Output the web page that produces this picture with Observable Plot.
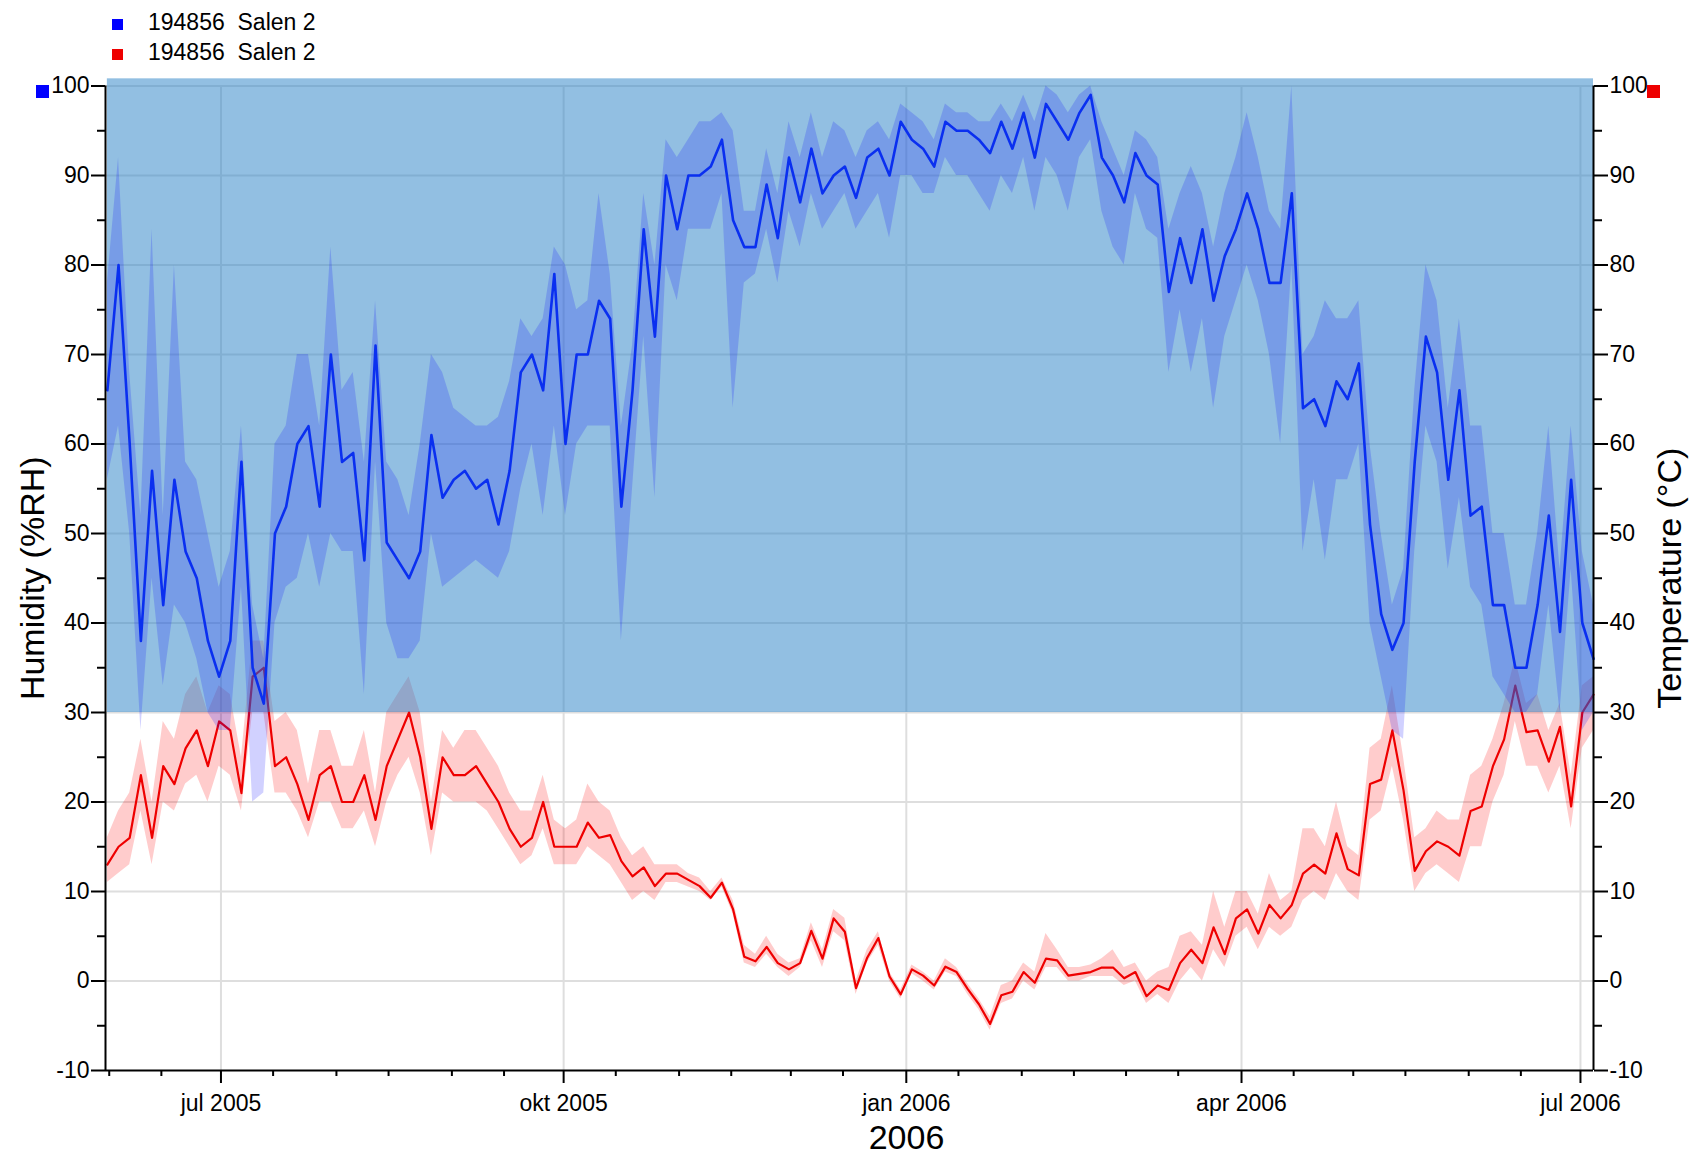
<!DOCTYPE html>
<html>
<head>
<meta charset="utf-8">
<script src="https://cdn.jsdelivr.net/npm/d3@7"></script>
<script src="https://cdn.jsdelivr.net/npm/@observablehq/plot@0.6"></script>
<style>
  html, body { margin: 0; padding: 0; background: #fff; }
  #wrap { position: relative; width: 1695px; height: 1158px; font-family: "Liberation Sans", Arial, sans-serif; color: #000; }
  #legend { position: relative; height: 70px; }
  .lg { position: absolute; left: 148px; font-size: 23px; line-height: 1; white-space: pre; }
  .sw { position: absolute; }
</style>
</head>
<body>
<div id="wrap">
  <div id="legend"></div>
  <div id="chart"></div>
</div>
<script>
// ---------------- data ----------------
const seriesNames = ["194856  Salen 2", "194856  Salen 2"];
const seriesColors = ["#0000ff", "#ee0000"];
const firstSample = "2005-05-31T12:00:00Z";
const stepDays = 3;
const xDomainDates = ["2005-05-31T00:00:00Z", "2006-07-04T12:00:00Z"];
const xTickDates = ["2005-07-01", "2005-10-01", "2006-01-01", "2006-04-01", "2006-07-01"];
const xTickLabels = ["jul 2005", "okt 2005", "jan 2006", "apr 2006", "jul 2006"];
const yTickValues = [-10, 0, 10, 20, 30, 40, 50, 60, 70, 80, 90, 100];
const yMinorValues = [-5, 5, 15, 25, 35, 45, 55, 65, 75, 85, 95];
const bandLow = 30, bandHigh = 100.8;

// relative humidity (%RH), 3-day samples: mean, low, high
const humidity = [66,80,60,38,57,42,56,48,45,38,
  34,38,58,35,31,50,53,60,62,53,
  70,58,59,47,71,49,47,45,48,61,
  54,56,57,55,56,51,57,68,70,66,
  79,60,70,70,76,74,53,66,84,72,
  90,84,90,90,91,94,85,82,82,89,
  83,92,87,93,88,90,91,87.5,92,93,
  90,96,94,93,91,96,95,95,94,92.5,
  96,93,97,92,98,96,94,97,99,92,
  90,87,92.5,90,89,77,83,78,84,76,
  81,84,88,84,78,78,88,64,65,62,
  67,65,69,51,41,37,40,58,72,68,
  56,66,52,53,42,42,35,35,42,52,
  39,56,40,36];
const humLow = [56,62,50,28,45,33,42,40,36,30,
  28,28,44,20,21,40,44,45,50,44,
  50,48,48,32,58,40,36,36,38,50,
  44,45,46,47,46,45,48,55,60,52,
  62,52,60,62,62,62,38,55,72,54,
  80,76,84,84,84,88,64,78,79,84,
  78,86,82,88,84,86,88,84,86,88,
  83,90,90,88,88,92,90,90,88,86,
  90,88,92,86,92,90,86,92,94,86,
  82,80,88,84,83,68,75,68,74,64,
  72,76,80,76,70,60,80,48,56,47,
  56,56,60,40,34,28,27,48,62,58,
  46,54,44,42,34,32,30,30,32,42,
  30,46,28,30];
const humHigh = [78,92,68,52,84,52,80,58,56,50,
  44,48,62,42,36,60,62,70,70,62,
  82,66,68,58,76,58,56,52,60,70,
  68,64,63,62,62,63,67,74,72,74,
  82,80,75,76,88,79,62,71,88,80,
  94,92,94,96,96,97,95,86,86,93,
  88,96,92,97,92,96,95,92,95,96,
  94,98,97,96,94,98,97,97,96,96,
  98,96,99,96,100,99,97,99,100,96,
  93,90,95,94,92,84,88,91,88,82,
  88,92,97,92,86,84,100,70,72,76,
  74,74,76,60,50,42,46,66,80,76,
  64,74,62,62,50,50,42,42,50,62,
  46,62,48,42];

// temperature (°C), 3-day samples: mean, low, high
const temperature = [13,15,16,23,16,24,22,26,28,24,
  29,28,21,34,35,24,25,22,18,23,
  24,20,20,23,18,24,27,30,25,17,
  25,23,23,24,22,20,17,15,16,20,
  15,15,15,17.7,16,16.3,13.4,11.7,12.7,10.6,
  12,12,11.3,10.6,9.3,11,8,2.7,2.2,3.8,
  2,1.3,2,5.6,2.5,7,5.5,-0.8,2.6,4.8,
  0.5,-1.5,1.3,0.6,-0.5,1.6,1,-0.9,-2.6,-4.8,
  -1.6,-1.2,1,-0.2,2.5,2.3,0.6,0.8,1,1.5,
  1.5,0.3,1,-1.7,-0.5,-1,2,3.5,2,6,
  3,7,8,5.3,8.5,7,8.5,12,13,12,
  16.5,12.5,11.8,22,22.5,28,21.3,12.3,14.5,15.6,
  15,14,19,19.5,24,27,33,27.8,28,24.5,
  28.4,19.5,30,32];
const tempLow = [11,12,13,19,13,20,19,22,23,20,
  24,23,19,30,30,21,21,19,16,20,
  20,17,17,19,15,20,23,25,21,14,
  21,20,20,20,19,17,15,13,14,17,
  13,13,13,15,14,13,11,9,10,9,
  11,11,10.5,10,9,10.5,7.5,2,1.5,3,
  1.5,0.5,1.5,4.5,1.5,5.5,4.5,-1.5,2,4,
  0,-2,0.8,0,-1,1,0.5,-1.5,-3.2,-5.5,
  -2.5,-2,0,-1,1.5,1.5,0,0,0.5,0.5,
  0.5,-0.5,0,-2.5,-1.5,-2.5,0,1.5,0,3.5,
  1.5,5,6,3.5,6,5,6,9,10,9,
  12,10,9,18,19,24,18,10,12,13,
  12,11,15,15,20,23,29,24,24,21,
  24,17,26,28];
const tempHigh = [16,19,21,27,20,29,27,32,34,30,
  33,32,25,38,38,29,30,28,22,28,
  28,24,24,28,21,30,32,34,30,20,
  28,26,28,28,26,24,21,19,19,23,
  18,17,18,22,20,19,16,14,15,13,
  13,13,12,11.5,10,11.5,9,4,3,5,
  3,2,2.5,6.5,3.5,8,7,0,3.5,5.5,
  1,-1,1.8,1,0,2.5,1.5,-0.3,-2,-4,
  -0.5,0,2,1,5.3,3.5,1.5,1.5,1.8,2.5,
  3.5,1.5,2,0,1,1.5,5,5.5,4,10,
  6,10,10,7.5,12,9,10,17,17,15,
  20,15,14,26,27,33,25,16,17,19,
  18,18,23,24,27,31,36,31,32,28,
  31,23,33,34];

// ---------------- build ----------------
const font = '"Liberation Sans", Arial, sans-serif';
const start = new Date(firstSample);
const dates = humidity.map((_, i) => d3.utcDay.offset(start, i * stepDays));
const data = dates.map((date, i) => ({
  date, h: humidity[i], hLo: humLow[i], hHi: humHigh[i],
  t: temperature[i], tLo: tempLow[i], tHi: tempHigh[i]
}));
const xDomain = xDomainDates.map(s => new Date(s));
const majors = xTickDates.map(s => new Date(s + "T00:00:00Z"));
const labelByTime = new Map(majors.map((d, i) => [+d, xTickLabels[i]]));
const minors = [];
for (const m of d3.utcMonths(xDomain[0], xDomain[1])) {
  for (const d of [m, d3.utcDay.offset(m, 14)]) {
    if (d > xDomain[0] && d < xDomain[1] && !labelByTime.has(+d)) minors.push(d);
  }
}
const zone = [{x1: dates[0], x2: dates[dates.length - 1], y1: bandLow, y2: bandHigh}];

// legend (HTML, above the SVG)
const legend = document.getElementById("legend");
seriesNames.forEach((name, i) => {
  const sw = document.createElement("div");
  sw.className = "sw";
  Object.assign(sw.style, {left: "112px", top: (19 + 30 * i) + "px", width: "11px", height: "11px", background: seriesColors[i]});
  legend.appendChild(sw);
  const t = document.createElement("div");
  t.className = "lg";
  t.style.top = (11 + 30 * i) + "px";
  t.textContent = name;
  legend.appendChild(t);
});
// small axis colour keys
[[36, seriesColors[0]], [1647, seriesColors[1]]].forEach(([left, c]) => {
  const sw = document.createElement("div");
  sw.className = "sw";
  Object.assign(sw.style, {left: left + "px", top: "85px", width: "13px", height: "13px", background: c});
  document.getElementById("wrap").appendChild(sw);
});

const yFmt = d => String(d);
const chart = Plot.plot({
  width: 1695,
  height: 1088,
  marginLeft: 105,
  marginRight: 102,
  marginTop: 15.5,
  marginBottom: 88,
  x: {type: "utc", domain: xDomain, label: null},
  y: {domain: [-10, 100], label: null},
  style: {fontFamily: font, fontSize: "23px", color: "#000", background: "transparent", overflow: "visible"},
  marks: [
    Plot.ruleY(yTickValues.filter(v => v > -10), {stroke: "#dedede", strokeWidth: 2}),
    Plot.ruleX(majors, {stroke: "#dedede", strokeWidth: 2}),
    Plot.areaY(data, {x: "date", y1: "tLo", y2: "tHi", fill: "#ff0000", fillOpacity: 0.2}),
    Plot.line(data, {x: "date", y: "t", stroke: seriesColors[1], strokeWidth: 2.2}),
    Plot.rect(zone, {x1: "x1", x2: "x2", y1: "y1", y2: "y2", fill: "#257fc5", fillOpacity: 0.5}),
    Plot.areaY(data, {x: "date", y1: "hLo", y2: "hHi", fill: "#0000ff", fillOpacity: 0.18}),
    Plot.line(data, {x: "date", y: "h", stroke: "#0a2ff0", strokeWidth: 2.6}),
    Plot.ruleY([-10], {stroke: "#000", strokeWidth: 2}),
    Plot.ruleX([xDomain[0], xDomain[1]], {stroke: "#000", strokeWidth: 2}),
    Plot.axisY(yTickValues, {anchor: "left", tickSize: 14, tickPadding: 2, strokeWidth: 2, tickFormat: yFmt, label: null, fontSize: 23}),
    Plot.axisY(yMinorValues, {anchor: "left", tickSize: 8, strokeWidth: 2, tickFormat: () => "", label: null}),
    Plot.axisY(yTickValues, {anchor: "right", tickSize: 14, tickPadding: 2, strokeWidth: 2, tickFormat: yFmt, label: null, fontSize: 23}),
    Plot.axisY(yMinorValues, {anchor: "right", tickSize: 8, strokeWidth: 2, tickFormat: () => "", label: null}),
    Plot.axisX(majors, {anchor: "bottom", tickSize: 13, tickPadding: 11, strokeWidth: 2, tickFormat: d => labelByTime.get(+d), label: null, fontSize: 23}),
    Plot.axisX(minors, {anchor: "bottom", tickSize: 6, strokeWidth: 2, tickFormat: () => "", label: null}),
    Plot.text(["Humidity (%RH)"], {text: d => d, frameAnchor: "left", dx: -72, rotate: -90, textAnchor: "middle", lineAnchor: "middle", fontSize: 34, fill: "#000"}),
    Plot.text(["Temperature (°C)"], {text: d => d, frameAnchor: "right", dx: 77, rotate: -90, textAnchor: "middle", lineAnchor: "middle", fontSize: 34, fill: "#000"}),
    Plot.text(["2006"], {text: d => d, frameAnchor: "bottom", dx: 57, dy: 68, textAnchor: "middle", lineAnchor: "middle", fontSize: 34, fill: "#000"})
  ]
});
document.getElementById("chart").appendChild(chart);
</script>
</body>
</html>
